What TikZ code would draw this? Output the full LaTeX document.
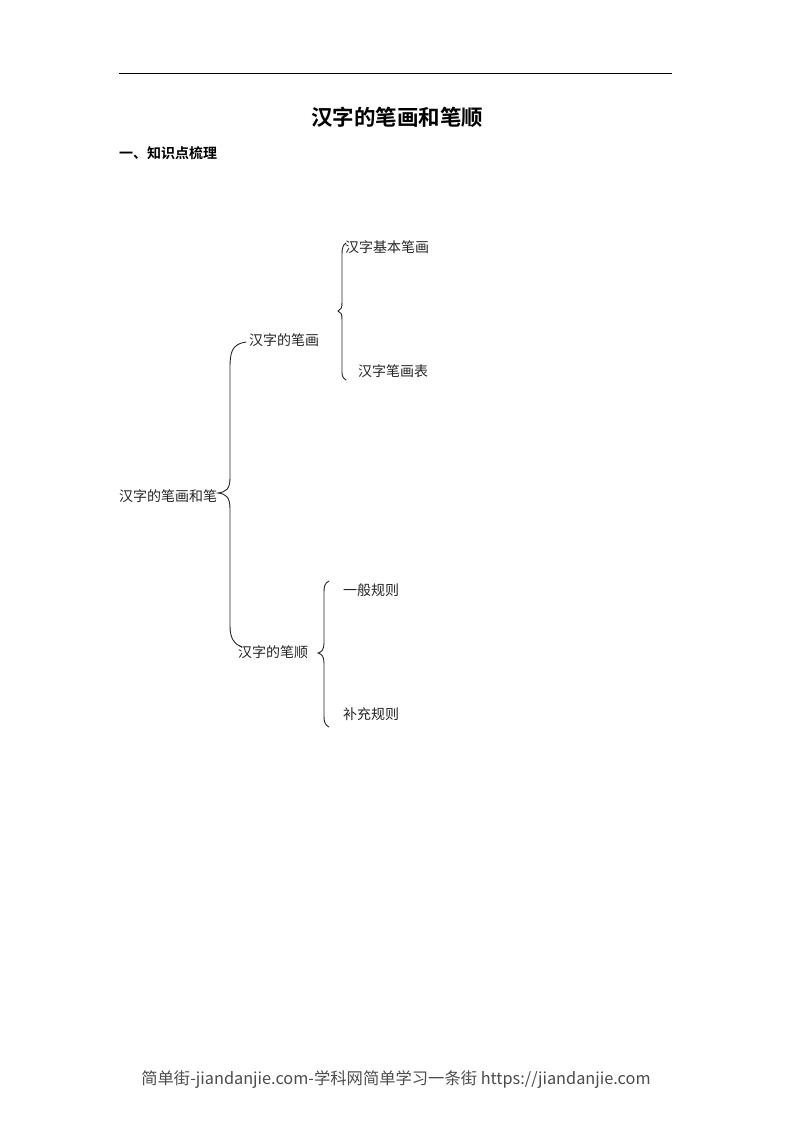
\documentclass[tikz,border=0pt]{standalone}
\usepackage{fontspec}
\newfontfamily\cjk[BoldFont={Noto Sans CJK SC Bold}]{Noto Sans CJK SC}
\begin{document}
\begin{tikzpicture}[x=1pt,y=-1pt,
  lbl/.style={anchor=west,inner sep=0pt,font=\cjk\fontsize{14}{15}\selectfont,text=black!85},
  brace/.style={draw=black!85,line width=0.9pt,line cap=round}]
\useasboundingbox (0,0) rectangle (793,1122);
\fill[white] (0,0) rectangle (793,1122);
% header rule
\coordinate (hl) at (119,73);
\coordinate (hr) at (672,73);
\draw[line width=0.9pt] (hl) -- (hr);
% title
\node[inner sep=0pt,font=\cjk\bfseries\fontsize{21.5}{22}\selectfont] (title) at (397,117) {汉字的笔画和笔顺};
\node[anchor=west,inner sep=0pt,font=\cjk\bfseries\fontsize{14}{15}\selectfont] (sec) at (119,153) {一、知识点梳理};
% labels
\node[lbl] (root) at (119,496) {汉字的笔画和笔};
\node[lbl] (bh) at (249,340) {汉字的笔画};
\node[lbl] (bs) at (238,652) {汉字的笔顺};
\node[lbl] (jb) at (345,247) {汉字基本笔画};
\node[lbl] (bhb) at (358,371) {汉字笔画表};
\node[lbl] (yb) at (343,590) {一般规则};
\node[lbl] (bc) at (343,714) {补充规则};
% brace 1
\draw[brace] (246,342) .. controls (232,344) and (230,352) .. (230,368)
  -- (230,478) .. controls (230,489) and (226,492) .. (218,493)
  .. controls (226,494) and (230,497) .. (230,509)
  -- (230,626) .. controls (230,638) and (234,644) .. (242,647);
% brace 2
\draw[brace] (346,243) .. controls (343,245) and (342,248) .. (342,254)
  -- (342,302) .. controls (342,308) and (341,310) .. (338,311)
  .. controls (341,312) and (342,314) .. (342,320)
  -- (342,372) .. controls (342,376) and (343,378) .. (346,380);
% brace 3
\draw[brace] (329,581) .. controls (325,583) and (324,586) .. (324,592)
  -- (324,643) .. controls (324,649) and (322,652) .. (318,653)
  .. controls (322,654) and (324,657) .. (324,663)
  -- (324,716) .. controls (324,722) and (325,725) .. (329,727);
% footer
\node[inner sep=0pt,text=black!70,font=\cjk\fontsize{16.3}{17}\selectfont] (foot) at (396,1080) {简单街-jiandanjie.com-学科网简单学习一条街 https://jiandanjie.com};
\end{tikzpicture}
\end{document}
